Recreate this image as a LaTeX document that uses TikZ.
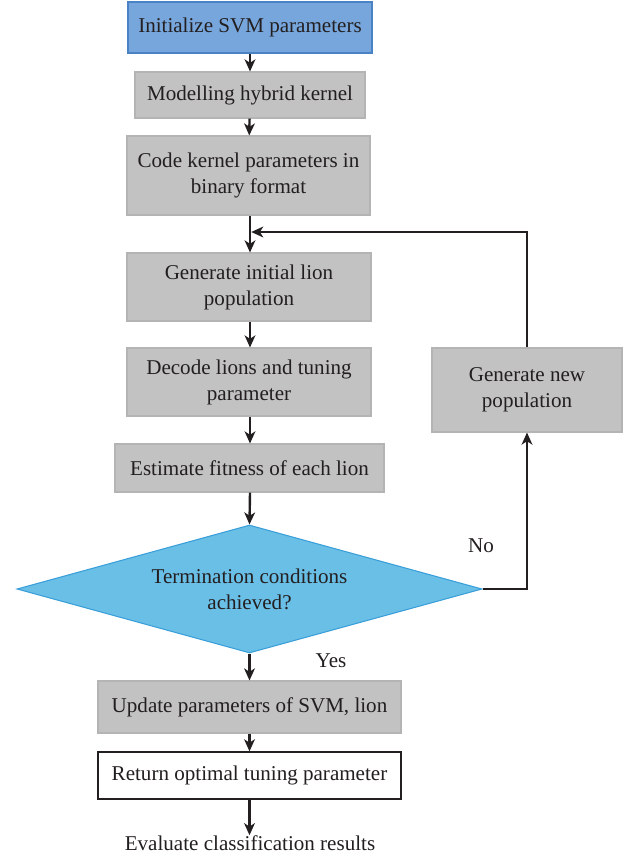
\documentclass[tikz,border=0pt]{standalone}
\usepackage{fontspec}
\setmainfont{Liberation Serif}
\usetikzlibrary{shapes.geometric,arrows.meta}
\definecolor{ink}{HTML}{231F20}
\definecolor{boxgray}{HTML}{C2C2C2}
\definecolor{boxedge}{HTML}{B4B4B4}
\definecolor{topfill}{HTML}{77A6DC}
\definecolor{topedge}{HTML}{4A82C6}
\definecolor{dfill}{HTML}{6ABFE7}
\definecolor{dedge}{HTML}{3A9FD8}
\tikzset{
  base/.style={inner sep=0pt, align=center, text=ink, font=\fontsize{15.8}{19.5}\selectfont},
  graybox/.style={base, rectangle, fill=boxgray, draw=boxedge, line width=0.8pt},
  topbox/.style={base, rectangle, fill=topfill, draw=topedge, line width=0.8pt},
  whitebox/.style={base, rectangle, fill=white, draw=ink, line width=1pt},
  decision/.style={base, diamond, fill=dfill, draw=dedge, line width=0.8pt, aspect=3.63},
  conn/.style={draw=ink, line width=1.8pt, -{Stealth[length=9pt,width=8pt,inset=2.5pt]}},
  lbl/.style={base}
}
\begin{document}
\begin{tikzpicture}[x=0.75pt,y=-0.75pt]
\useasboundingbox (0,0) rectangle (627,857);
\node[topbox, minimum width=183pt, minimum height=38.25pt] (b1) at (250,27.5) {Initialize SVM parameters};
\node[graybox, minimum width=172.5pt, minimum height=34.5pt] (b2) at (250,95) {Modelling hybrid kernel};
\node[graybox, minimum width=182.25pt, minimum height=59.25pt] (b3) at (248.5,175.5) {Code kernel parameters in\\binary format};
\coordinate (m) at (250,232);
\node[graybox, minimum width=183pt, minimum height=51pt] (b4) at (249,287) {Generate initial lion\\population};
\node[graybox, minimum width=183pt, minimum height=51pt] (b5) at (249,382) {Decode lions and tuning\\parameter};
\node[graybox, minimum width=201.75pt, minimum height=36pt] (b6) at (249.5,468) {Estimate fitness of each lion};
\node[decision, minimum width=348.75pt, minimum height=96pt] (d) at (249.5,589) {Termination conditions\\achieved?};
\node[graybox, minimum width=142.5pt, minimum height=63pt] (b7) at (527,390) {Generate new\\population};
\node[graybox, minimum width=227.25pt, minimum height=39pt] (b8) at (249.5,707) {Update parameters of SVM, lion};
\node[whitebox, minimum width=227.25pt, minimum height=35.25pt] (b9) at (249.5,775.5) {Return optimal tuning parameter};
\node[lbl] (b10) at (250,843) {Evaluate classification results};
\node[lbl] (no) at (481,546) {No};
\node[lbl] (yes) at (331,661) {Yes};
\draw[conn] (b1) -- (b2);
\draw[conn] (b2) -- (b3);
\draw[conn] (b3.south -| m) -- (b4.north -| m);
\draw[conn] (b4.south -| m) -- (b5.north -| m);
\draw[conn] (b5.south -| m) -- (b6.north -| m);
\draw[conn] (b6.south -| m) -- (d.north);
\draw[conn] (d.south) -- (b8.north -| d.south);
\draw[conn] (b8.south -| d.south) -- (b9.north -| d.south);
\draw[conn] (b9.south -| d.south) -- (b10.north -| d.south);
\draw[conn] (d.east) -| (b7.south);
\draw[conn] (b7.north) |- ([xshift=0.9pt]m);
\end{tikzpicture}
\end{document}
